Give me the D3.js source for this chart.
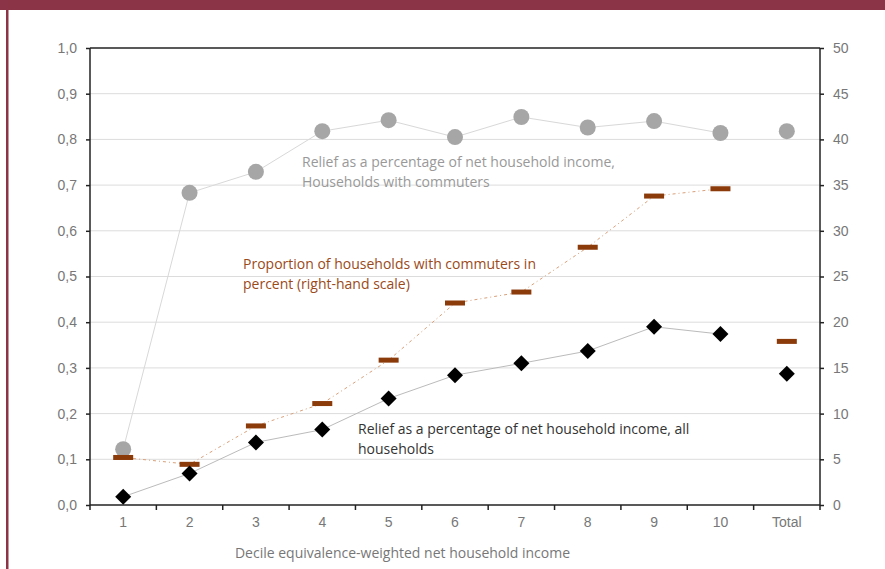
<!DOCTYPE html>
<html><head><meta charset="utf-8">
<script src="https://cdn.jsdelivr.net/npm/d3@7"></script>
<style>
body{margin:0;background:#fff;}
svg{display:block;font-family:"Open Sans",sans-serif;}
</style></head>
<body><svg id="c" width="885" height="569"></svg>
<script>
const categories = ["1","2","3","4","5","6","7","8","9","10","Total"];
const reliefCommuters = [0.122,0.683,0.729,0.818,0.842,0.805,0.849,0.826,0.840,0.814,0.818];
const shareCommuters = [5.2,4.45,8.65,11.1,15.85,22.1,23.3,28.2,33.8,34.6,17.9];
const reliefAll = [0.018,0.069,0.137,0.165,0.233,0.284,0.310,0.337,0.390,0.374,0.287];
const leftTicks = [0,0.1,0.2,0.3,0.4,0.5,0.6,0.7,0.8,0.9,1.0];
const rightTicks = [0,5,10,15,20,25,30,35,40,45,50];
const xTitle = "Decile equivalence-weighted net household income";

const svg = d3.select("#c");
const L=90,R=820,T=48,B=505;
// frame
svg.append("rect").attr("x",0).attr("y",0).attr("width",885).attr("height",10).attr("fill","#8B3447");
svg.append("rect").attr("x",6).attr("y",0).attr("width",2.5).attr("height",569).attr("fill","#8B3447");

const x = d3.scaleBand().domain(categories).range([L,R]);
const yL = d3.scaleLinear().domain([0,1]).range([B,T]);
const yR = d3.scaleLinear().domain([0,50]).range([B,T]);
const cx = d => x(d)+x.bandwidth()/2;

// gridlines
svg.append("g").selectAll("line").data(leftTicks.filter(t=>t>0&&t<1)).join("line")
  .attr("x1",L).attr("x2",R).attr("y1",d=>yL(d)).attr("y2",d=>yL(d))
  .attr("stroke","#dcdcdc").attr("stroke-width",1);
// top border
svg.append("line").attr("x1",L).attr("x2",R).attr("y1",T).attr("y2",T).attr("stroke","#222").attr("stroke-width",1.5);

const fmt = d=>d.toFixed(1).replace(".",",");
const axL = svg.append("g").attr("transform",`translate(${L},0)`)
  .call(d3.axisLeft(yL).tickValues(leftTicks).tickFormat(fmt).tickSize(4).tickPadding(9));
const axR = svg.append("g").attr("transform",`translate(${R},0)`)
  .call(d3.axisRight(yR).tickValues(rightTicks).tickSize(4).tickPadding(9));
const axB = svg.append("g").attr("transform",`translate(0,${B})`)
  .call(d3.axisBottom(x).tickSize(0).tickPadding(12));
// bottom ticks at band boundaries
svg.append("g").selectAll("line").data(categories.slice(0)).join("line")
  .attr("x1",d=>x(d)).attr("x2",d=>x(d)).attr("y1",B).attr("y2",B+5).attr("stroke","#222").attr("stroke-width",1.5);
svg.append("line").attr("x1",R).attr("x2",R).attr("y1",B).attr("y2",B+5).attr("stroke","#222").attr("stroke-width",1.5);
[axL,axR,axB].forEach(a=>{
  a.select(".domain").attr("stroke","#222").attr("stroke-width",1.5);
  a.selectAll(".tick line").attr("stroke","#222").attr("stroke-width",1.5);
  a.selectAll("text").attr("fill","#777").attr("font-size",14);
});
axL.select(".domain").attr("d",`M0,${T}V${B}`);
axR.select(".domain").attr("d",`M0,${T}V${B}`);
axB.select(".domain").attr("d",`M${L},0H${R}`);

svg.append("text").attr("x",(236+569)/2).attr("y",558).attr("text-anchor","middle")
  .attr("fill","#777").attr("font-size",14).text(xTitle);

const line = s => d3.line().x((d,i)=>cx(categories[i])).y(d=>s(d));

// lines
svg.append("path").attr("d",line(yL)(reliefCommuters.slice(0,10))).attr("fill","none").attr("stroke","#d8d8d8").attr("stroke-width",1);
svg.append("path").attr("d",line(yR)(shareCommuters.slice(0,10))).attr("fill","none").attr("stroke","#d9a07a").attr("stroke-width",1).attr("stroke-dasharray","3,3,1,3");
svg.append("path").attr("d",line(yL)(reliefAll.slice(0,10))).attr("fill","none").attr("stroke","#bbbbbb").attr("stroke-width",1);

// markers
svg.append("g").selectAll("circle").data(reliefCommuters).join("circle")
  .attr("cx",(d,i)=>cx(categories[i])).attr("cy",d=>yL(d)).attr("r",8).attr("fill","#a6a6a6");
svg.append("g").selectAll("rect").data(shareCommuters).join("rect")
  .attr("x",(d,i)=>cx(categories[i])-10).attr("y",d=>yR(d)-2.5).attr("width",20).attr("height",5).attr("fill","#8B3A0A");
svg.append("g").selectAll("path").data(reliefAll).join("path")
  .attr("d",d3.symbol().type(d3.symbolSquare).size(128))
  .attr("transform",(d,i)=>`translate(${cx(categories[i])},${yL(d)}) rotate(45)`).attr("fill","#000");

// annotations
const ann = (lines, x0, y0, col) => {
  const t = svg.append("text").attr("x",x0).attr("y",y0).attr("fill",col).attr("font-size",14);
  lines.forEach((l,i)=>t.append("tspan").attr("x",x0).attr("dy",i?19.5:0).text(l));
};
ann(["Relief as a percentage of net household income,","Households with commuters"],302,167,"#999");
ann(["Proportion of households with commuters in","percent (right-hand scale)"],243,269,"#9b4a1a");
ann(["Relief as a percentage of net household income, all","households"],358,434,"#333");
</script></body></html>
